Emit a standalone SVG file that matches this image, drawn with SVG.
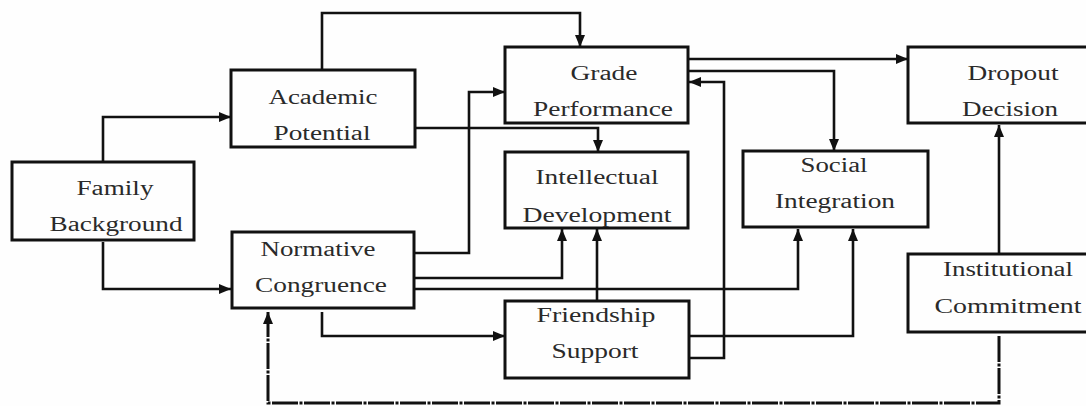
<svg xmlns="http://www.w3.org/2000/svg" width="1086" height="406" viewBox="0 0 1086 406">
<style>
.box{fill:none;stroke:#111;stroke-width:3}
.t{font-family:"Liberation Serif","Times New Roman",serif;font-size:20px;fill:#2a2a2a;text-anchor:middle}
.c{fill:none;stroke:#111;stroke-width:2.6;marker-end:url(#ah)}
.d{fill:none;stroke:#111;stroke-width:3;stroke-dasharray:26,1.5,3,1.5;marker-end:url(#ah)}
</style>
<defs>
<marker id="ah" markerUnits="userSpaceOnUse" markerWidth="12" markerHeight="10" refX="12" refY="5" orient="auto">
<path d="M0,0 L12,5 L0,10 z" fill="#111"/>
</marker>
</defs>
<rect width="1086" height="406" fill="#fefefe"/>
<g id="connectors">
<path class="c" d="M103,162 V117 H231"/>
<path class="c" d="M103,242 V289 H231"/>
<path class="c" d="M322,70 V13 H580 V47"/>
<path class="c" d="M415,128 H598 V152"/>
<path class="c" d="M414,253 H469 V92 H505"/>
<path class="c" d="M414,278 H562 V229"/>
<path class="c" d="M414,289 H798 V229"/>
<path class="c" d="M322,312 V336 H505"/>
<path class="c" d="M597,301 V229"/>
<path class="c" d="M689,336 H853 V229"/>
<path class="c" d="M689,358 H724 V82 H689"/>
<path class="c" d="M688,59 H908"/>
<path class="c" d="M688,71 H834 V151"/>
<path class="c" d="M999,254 V125"/>
<path class="d" d="M999,336 V403 H268 V312"/>
</g>
<g id="family">
<rect class="box" x="12" y="162" width="182" height="78"/>
<text class="t" x="115" y="195" textLength="77" lengthAdjust="spacingAndGlyphs">Family</text>
<text class="t" x="116" y="231" textLength="133" lengthAdjust="spacingAndGlyphs">Background</text>
</g>
<g id="academic">
<rect class="box" x="231" y="70" width="184" height="77"/>
<text class="t" x="323" y="104" textLength="109" lengthAdjust="spacingAndGlyphs">Academic</text>
<text class="t" x="322" y="140" textLength="97" lengthAdjust="spacingAndGlyphs">Potential</text>
</g>
<g id="normative">
<rect class="box" x="232" y="232" width="182" height="76"/>
<text class="t" x="318" y="256" textLength="115" lengthAdjust="spacingAndGlyphs">Normative</text>
<text class="t" x="321" y="292" textLength="132" lengthAdjust="spacingAndGlyphs">Congruence</text>
</g>
<g id="grade">
<rect class="box" x="505" y="47" width="183" height="76"/>
<text class="t" x="604" y="80" textLength="67" lengthAdjust="spacingAndGlyphs">Grade</text>
<text class="t" x="603" y="116" textLength="140" lengthAdjust="spacingAndGlyphs">Performance</text>
</g>
<g id="intellectual">
<rect class="box" x="505" y="152" width="183" height="76"/>
<text class="t" x="597" y="184" textLength="123" lengthAdjust="spacingAndGlyphs">Intellectual</text>
<text class="t" x="597" y="222" textLength="149" lengthAdjust="spacingAndGlyphs">Development</text>
</g>
<g id="friendship">
<rect class="box" x="505" y="301" width="184" height="77"/>
<text class="t" x="596" y="322" textLength="119" lengthAdjust="spacingAndGlyphs">Friendship</text>
<text class="t" x="595" y="358" textLength="87" lengthAdjust="spacingAndGlyphs">Support</text>
</g>
<g id="social">
<rect class="box" x="743" y="151" width="185" height="76"/>
<text class="t" x="834" y="172" textLength="67" lengthAdjust="spacingAndGlyphs">Social</text>
<text class="t" x="835" y="208" textLength="120" lengthAdjust="spacingAndGlyphs">Integration</text>
</g>
<g id="dropout">
<rect class="box" x="908" y="47" width="182" height="76"/>
<text class="t" x="1013" y="80" textLength="91" lengthAdjust="spacingAndGlyphs">Dropout</text>
<text class="t" x="1010" y="116" textLength="96" lengthAdjust="spacingAndGlyphs">Decision</text>
</g>
<g id="institutional">
<rect class="box" x="908" y="254" width="182" height="78"/>
<text class="t" x="1008" y="276" textLength="130" lengthAdjust="spacingAndGlyphs">Institutional</text>
<text class="t" x="1008" y="313" textLength="147" lengthAdjust="spacingAndGlyphs">Commitment</text>
</g>
</svg>
